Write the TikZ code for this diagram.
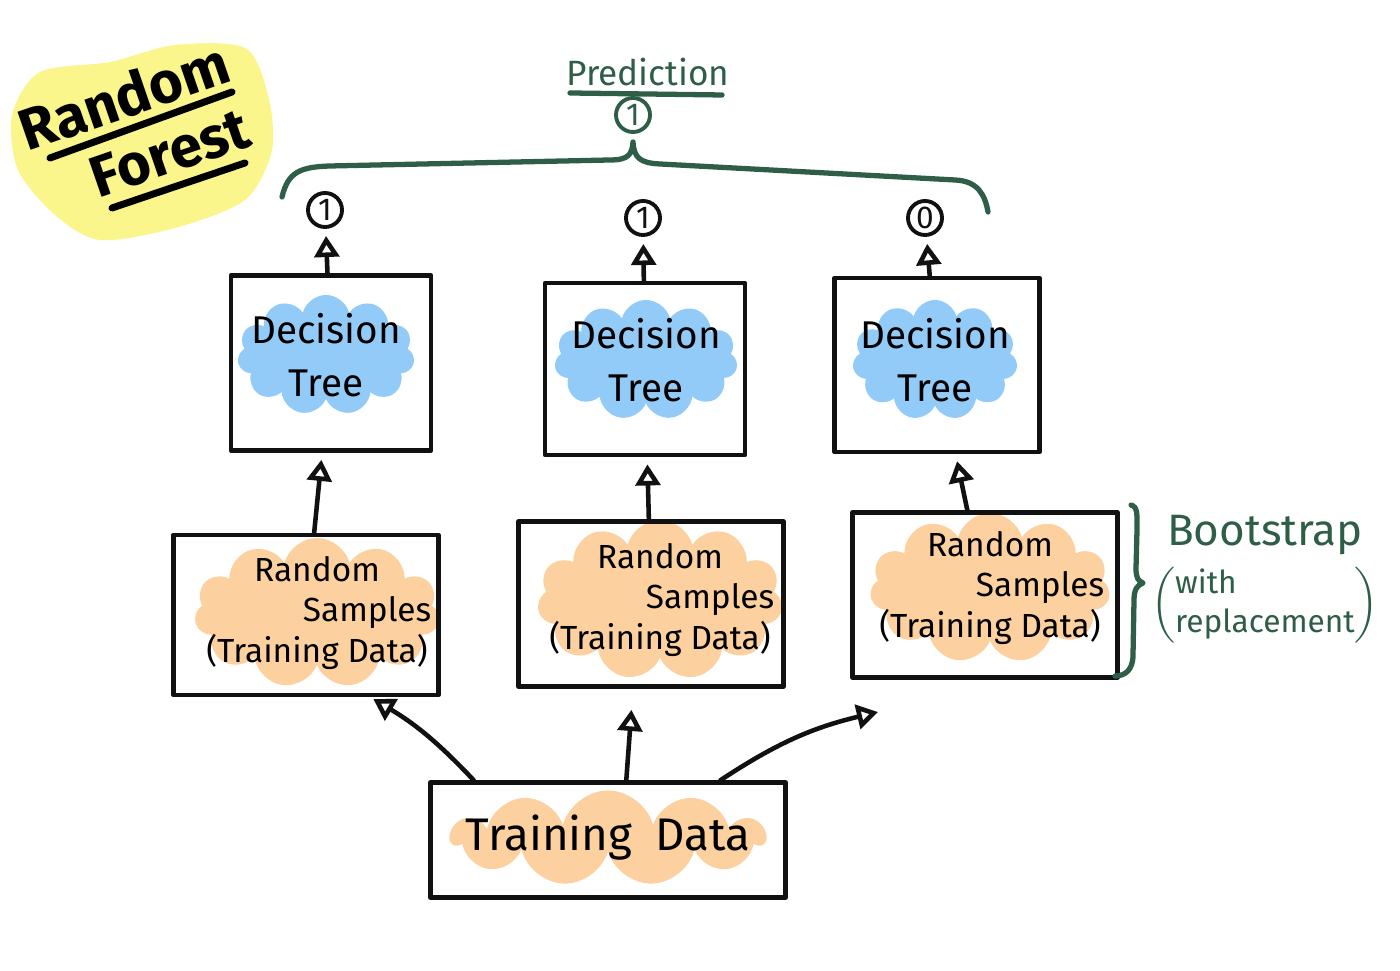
\documentclass[tikz,border=0pt]{standalone}
\usepackage{fontspec}
\setmainfont{Fira Sans}
\usepackage{amsmath}
\usetikzlibrary{arrows.meta,shapes.symbols,positioning}
\definecolor{penink}{HTML}{111111}
\definecolor{inkgreen}{HTML}{2E5E48}
\definecolor{treeblue}{HTML}{92CBF8}
\definecolor{sampleorange}{HTML}{FCD19F}
\definecolor{titleyellow}{HTML}{FAF68C}

\begin{document}
\begin{tikzpicture}[x=0.01cm, y=-0.01cm, line cap=round, line join=round,
  box/.style={draw=penink, line width=1.3pt, inner sep=0pt},
  blob/.style={cloud, cloud puffs=11, cloud ignores aspect, fill=#1, inner sep=0pt},
  leaf/.style={circle, draw=#1, text=#1, line width=1.1pt, minimum size=0.34cm, inner sep=0pt, font=\small},
  up/.style={-{Triangle[open, length=6pt, width=7pt]}, draw=penink, line width=1.3pt}]
\useasboundingbox (0,0) rectangle (1400,971);

% title
\fill[titleyellow] plot[smooth cycle] coordinates {(12,115) (40,72) (110,62) (175,45) (245,48) (268,95) (272,150) (245,200) (175,228) (100,240) (55,215) (18,170)};
\node[rotate=19, font=\fontsize{16.5}{20}\selectfont\bfseries] (ttlrandom) at (124,96) {Random};
\node[rotate=19, font=\fontsize{16.5}{20}\selectfont\bfseries] (ttlforest) at (170,153) {Forest};
\draw[line width=2pt] (50,158) -- (232,92);
\draw[line width=2pt] (112,208) -- (245,163);

% prediction
\node[text=inkgreen, font=\fontsize{10}{12}\selectfont] (pred) at (648,72) {Prediction};
\draw[inkgreen, line width=1.5pt] (570,93) -- (722,95);
\node[leaf=inkgreen] (final) at (633,115) {1};
\draw[inkgreen, line width=1.5pt] (282,197) .. controls (288,172) and (300,167) .. (330,166) -- (610,160) .. controls (628,160) and (632,155) .. (633,142)
  .. controls (634,158) and (640,163) .. (660,164) -- (955,180) .. controls (978,181) and (985,195) .. (988,212);

% votes
\node[leaf=penink] (vote1) at (325,210) {1};
\node[leaf=penink] (vote2) at (643,218) {1};
\node[leaf=penink] (vote3) at (925,218) {0};

% decision trees
\node[blob=treeblue, minimum width=1.77cm, minimum height=1.2cm] (dtblob1) at (326,355) {};
\node[blob=treeblue, minimum width=1.83cm, minimum height=1.2cm] (dtblob2) at (646,360) {};
\node[blob=treeblue, minimum width=1.65cm, minimum height=1.2cm] (dtblob3) at (935,360) {};
\node[align=center, font=\fontsize{11}{15}\selectfont] (dttext1) at (dtblob1) {Decision\\Tree};
\node[align=center, font=\fontsize{11}{15}\selectfont] (dttext2) at (dtblob2) {Decision\\Tree};
\node[align=center, font=\fontsize{11}{15}\selectfont] (dttext3) at (dtblob3) {Decision\\Tree};
\node[box, minimum width=2cm, minimum height=1.75cm] (tree1) at (331,363) {};
\node[box, minimum width=2cm, minimum height=1.72cm] (tree2) at (645,369) {};
\node[box, minimum width=2.05cm, minimum height=1.74cm] (tree3) at (937,365) {};

% random samples
\node[blob=sampleorange, minimum width=2.45cm, minimum height=1.5cm] (rsblob1) at (317,613) {};
\node[blob=sampleorange, minimum width=2.45cm, minimum height=1.6cm] (rsblob2) at (660,600) {};
\node[blob=sampleorange, minimum width=2.4cm, minimum height=1.5cm] (rsblob3) at (990,588) {};
\node[align=center, font=\fontsize{9.5}{11.5}\selectfont] (rstext1) at (rsblob1) {Random\hspace{2em}\\\hspace{3em}Samples\\(Training Data)};
\node[align=center, font=\fontsize{9.5}{11.5}\selectfont] (rstext2) at (rsblob2) {Random\hspace{2em}\\\hspace{3em}Samples\\(Training Data)};
\node[align=center, font=\fontsize{9.5}{11.5}\selectfont] (rstext3) at (rsblob3) {Random\hspace{2em}\\\hspace{3em}Samples\\(Training Data)};
\node[box, minimum width=2.65cm, minimum height=1.6cm] (samples1) at (306,615) {};
\node[box, minimum width=2.65cm, minimum height=1.65cm] (samples2) at (651,604) {};
\node[box, minimum width=2.65cm, minimum height=1.65cm] (samples3) at (985,595) {};

% training data
\node[blob=sampleorange, minimum width=3.13cm, minimum height=0.95cm] (tdblob) at (608,838) {};
\node[font=\fontsize{13}{15}\selectfont] (tdtext) at (tdblob) {Training\enspace Data};
\node[box, minimum width=3.55cm, minimum height=1.15cm] (train) at (608,840) {};

\coordinate (s3in) at (878,712);
\draw[up, shorten >=1pt] (train.156) to[bend right=8] (samples1.-52);
\draw[up, shorten >=6pt] (train.73) -- (samples2.-102);
\draw[up] (train.28) to[bend left=10] (s3in);

\draw[up, shorten >=2pt] (samples1) -- (tree1);
\draw[up, shorten >=2pt] (samples2) -- (tree2);
\draw[up, shorten >=2pt] (samples3) -- (tree3);
\draw[up, shorten >=2pt] (tree1) -- (vote1);
\draw[up, shorten >=2pt] (tree2) -- (vote2);
\draw[up, shorten >=2pt] (tree3) -- (vote3);

% bootstrap
\draw[inkgreen, line width=1.5pt] (1131,505) .. controls (1138,507) and (1137,515) .. (1137,530) -- (1136,568) .. controls (1136,578) and (1138,581) .. (1143,583)
  .. controls (1137,585) and (1134,590) .. (1134,600) -- (1133,655) .. controls (1133,670) and (1125,676) .. (1115,676);
\node[text=inkgreen, font=\fontsize{12.5}{15}\selectfont] (boot) at (1265,535) {Bootstrap};
\node[text=inkgreen, font=\fontsize{9}{11}\selectfont] (repl) at (1265,605) {$\left(\text{\begin{tabular}{@{}l@{}}with\\replacement\end{tabular}}\right)$};
\end{tikzpicture}
\end{document}
